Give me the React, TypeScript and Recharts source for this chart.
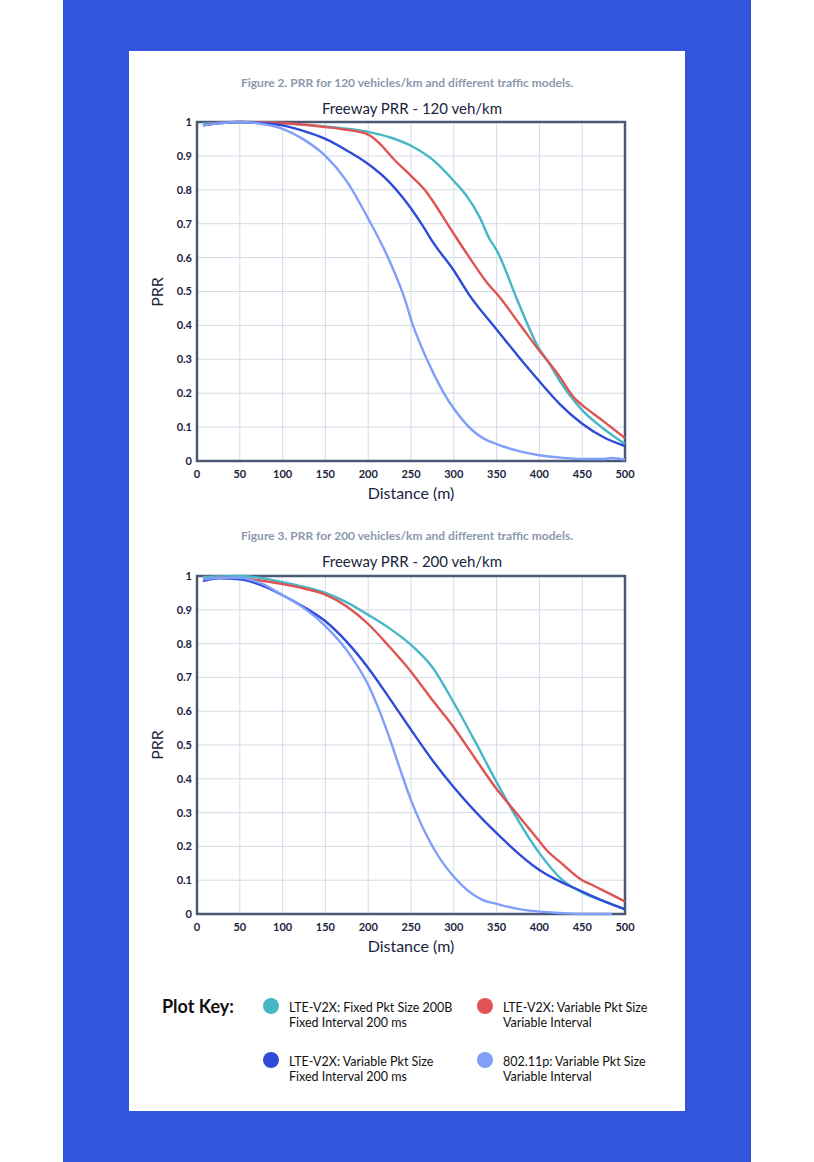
import React from 'react';
import { LineChart, Line, XAxis, YAxis, CartesianGrid, ReferenceArea } from 'recharts';

// ---------- ticks ----------
const distanceTicks = [0, 50, 100, 150, 200, 250, 300, 350, 400, 450, 500];
const prrTicks = [0, 0.1, 0.2, 0.3, 0.4, 0.5, 0.6, 0.7, 0.8, 0.9, 1];

// ---------- Figure 2 : 120 veh/km ----------
const fig2FixedDist = [7, 25, 50, 100, 150, 200, 225, 250, 279, 300, 315, 330, 342, 350, 375, 400, 410, 424, 450, 475, 500];
const fig2FixedPrr = [0.995, 0.998, 1.0, 0.996, 0.987, 0.971, 0.955, 0.93, 0.881, 0.826, 0.782, 0.72, 0.654, 0.622, 0.47, 0.33, 0.294, 0.235, 0.15, 0.095, 0.05];

const fig2VarVarDist = [7, 25, 50, 100, 150, 175, 200, 214, 230, 250, 267, 274, 300, 317, 342, 350, 375, 400, 420, 443, 450, 475, 500];
const fig2VarVarPrr = [0.99, 0.997, 1.0, 0.997, 0.985, 0.977, 0.963, 0.935, 0.89, 0.841, 0.797, 0.772, 0.67, 0.605, 0.516, 0.494, 0.41, 0.325, 0.262, 0.18, 0.165, 0.117, 0.068];

const fig2VarFixDist = [7, 25, 50, 75, 100, 125, 150, 175, 200, 225, 241, 250, 264, 276, 300, 318, 350, 375, 400, 425, 450, 475, 500];
const fig2VarFixPrr = [0.99, 0.996, 1.0, 0.997, 0.99, 0.973, 0.95, 0.916, 0.876, 0.822, 0.775, 0.745, 0.693, 0.644, 0.562, 0.49, 0.388, 0.31, 0.235, 0.165, 0.11, 0.07, 0.044];

const fig2WifiDist = [7, 25, 50, 75, 100, 125, 150, 175, 200, 225, 243, 251, 260, 276, 292, 300, 322, 335, 350, 375, 400, 425, 450, 475, 485, 500];
const fig2WifiPrr = [0.99, 0.996, 1.0, 0.995, 0.98, 0.948, 0.9, 0.825, 0.715, 0.59, 0.476, 0.41, 0.35, 0.26, 0.185, 0.155, 0.09, 0.066, 0.05, 0.03, 0.017, 0.01, 0.006, 0.006, 0.009, 0.004];

// ---------- Figure 3 : 200 veh/km ----------
const fig3FixedDist = [7, 25, 50, 100, 125, 150, 175, 200, 225, 250, 275, 300, 325, 350, 366, 375, 400, 425, 450, 475, 500];
const fig3FixedPrr = [0.997, 0.999, 1.0, 0.982, 0.968, 0.95, 0.922, 0.885, 0.845, 0.796, 0.73, 0.625, 0.51, 0.39, 0.317, 0.278, 0.18, 0.105, 0.064, 0.038, 0.014];

const fig3VarVarDist = [7, 25, 50, 100, 125, 150, 175, 200, 225, 250, 275, 300, 325, 350, 366, 400, 408, 425, 450, 460, 475, 500];
const fig3VarVarPrr = [0.99, 0.995, 0.993, 0.976, 0.963, 0.945, 0.91, 0.858, 0.79, 0.717, 0.633, 0.552, 0.46, 0.37, 0.32, 0.215, 0.19, 0.152, 0.1, 0.088, 0.069, 0.037];

const fig3VarFixDist = [7, 25, 50, 75, 100, 125, 150, 175, 200, 225, 250, 275, 300, 350, 400, 450, 475, 500];
const fig3VarFixPrr = [0.985, 0.993, 0.99, 0.973, 0.943, 0.908, 0.866, 0.805, 0.728, 0.638, 0.545, 0.455, 0.375, 0.239, 0.13, 0.066, 0.038, 0.014];

const fig3WifiDist = [7, 25, 50, 75, 100, 125, 150, 175, 200, 225, 237, 250, 276, 300, 334, 350, 375, 400, 425, 450, 485];
const fig3WifiPrr = [0.99, 0.995, 0.995, 0.978, 0.943, 0.905, 0.852, 0.78, 0.678, 0.52, 0.43, 0.337, 0.196, 0.11, 0.041, 0.03, 0.015, 0.007, 0.003, 0.0, 0.0];

// ---------- series meta ----------
const seriesColors = ['#47b6c6', '#e05353', '#2f4bd8', '#7f9ff9'];
const legendLines = [
  ['LTE-V2X: Fixed Pkt Size 200B', 'Fixed Interval 200 ms'],
  ['LTE-V2X: Variable Pkt Size', 'Variable Interval'],
  ['LTE-V2X: Variable Pkt Size', 'Fixed Interval 200 ms'],
  ['802.11p: Variable Pkt Size', 'Variable Interval'],
];

const zip = (d: number[], v: number[]) => d.map((x, i) => ({ d: x, prr: v[i] }));

const fig2Series = [
  zip(fig2FixedDist, fig2FixedPrr),
  zip(fig2VarVarDist, fig2VarVarPrr),
  zip(fig2VarFixDist, fig2VarFixPrr),
  zip(fig2WifiDist, fig2WifiPrr),
];
const fig3Series = [
  zip(fig3FixedDist, fig3FixedPrr),
  zip(fig3VarVarDist, fig3VarVarPrr),
  zip(fig3VarFixDist, fig3VarFixPrr),
  zip(fig3WifiDist, fig3WifiPrr),
];

const NAVY = '#1b2440';
const FONT = 'Lato, "Noto Sans", sans-serif';

function PrrChart({ series, top, plotH }: { series: { d: number; prr: number }[][]; top: number; plotH: number }) {
  return (
    <div style={{ position: 'absolute', left: 129, top }}>
      <LineChart width={556} height={10 + plotH + 30} margin={{ top: 10, right: 60, left: 0, bottom: 0 }}>
        <CartesianGrid stroke="#d5dae7" strokeWidth={1} />
        <XAxis
          type="number"
          dataKey="d"
          domain={[0, 500]}
          ticks={distanceTicks}
          axisLine={false}
          tickLine={false}
          tickSize={0}
          tickMargin={9}
          height={30}
          interval={0}
          allowDataOverflow
          tick={{ fontSize: 11, fontWeight: 700, fill: NAVY, fontFamily: FONT }}
        />
        <YAxis
          type="number"
          domain={[0, 1]}
          ticks={prrTicks}
          axisLine={false}
          tickLine={false}
          tickSize={0}
          tickMargin={5}
          width={68}
          interval={0}
          tickFormatter={(v: number) => String(Math.round(v * 10) / 10)}
          tick={{ fontSize: 11, fontWeight: 700, fill: NAVY, fontFamily: FONT }}
        />
        {series.map((s, i) => (
          <Line
            key={i}
            data={s}
            dataKey="prr"
            type="monotone"
            stroke={seriesColors[i]}
            strokeWidth={2.4}
            dot={false}
            activeDot={false}
            isAnimationActive={false}
          />
        ))}
        <ReferenceArea x1={0} x2={500} y1={0} y2={1} fill="none" fillOpacity={0} stroke="#4b5873" strokeWidth={2.5} />
      </LineChart>
    </div>
  );
}

function Centered({ x, y, children, style }: { x: number; y: number; children: React.ReactNode; style?: React.CSSProperties }) {
  return (
    <div
      style={{
        position: 'absolute',
        left: x,
        top: y,
        transform: 'translate(-50%, -50%)',
        whiteSpace: 'nowrap',
        lineHeight: 1,
        fontFamily: FONT,
        ...style,
      }}
    >
      {children}
    </div>
  );
}

export default function App() {
  const captionStyle: React.CSSProperties = { fontSize: 12, fontWeight: 700, color: '#8c97ae' };
  const titleStyle: React.CSSProperties = { fontSize: 15, color: NAVY };
  const axisStyle: React.CSSProperties = { fontSize: 16, color: NAVY };
  const legendPos = [
    { cx: 271, cy: 1006 },
    { cx: 485, cy: 1006 },
    { cx: 271, cy: 1060 },
    { cx: 485, cy: 1060 },
  ];
  return (
    <div style={{ position: 'absolute', left: 0, top: 0, width: 814, height: 1162, background: '#ffffff', overflow: 'hidden' }}>
      <div style={{ position: 'absolute', left: 63, top: 0, width: 688, height: 1162, background: '#3355dc' }} />
      <div style={{ position: 'absolute', left: 129, top: 51, width: 556, height: 1060, background: '#ffffff' }} />

      <Centered x={407} y={83} style={captionStyle}>Figure 2. PRR for 120 vehicles/km and different traffic models.</Centered>
      <Centered x={412} y={108} style={titleStyle}>Freeway PRR - 120 veh/km</Centered>
      <PrrChart series={fig2Series} top={112} plotH={339} />
      <Centered x={157} y={292} style={{ ...axisStyle, transform: 'translate(-50%, -50%) rotate(-90deg)' }}>PRR</Centered>
      <Centered x={411} y={493} style={axisStyle}>Distance (m)</Centered>

      <Centered x={407} y={536} style={captionStyle}>Figure 3. PRR for 200 vehicles/km and different traffic models.</Centered>
      <Centered x={412} y={561} style={titleStyle}>Freeway PRR - 200 veh/km</Centered>
      <PrrChart series={fig3Series} top={566} plotH={338} />
      <Centered x={157} y={745} style={{ ...axisStyle, transform: 'translate(-50%, -50%) rotate(-90deg)' }}>PRR</Centered>
      <Centered x={411} y={946} style={axisStyle}>Distance (m)</Centered>

      <div style={{ position: 'absolute', left: 162, top: 996, fontFamily: FONT, fontWeight: 700, fontSize: 18, color: '#111111', lineHeight: '20px' }}>
        Plot Key:
      </div>
      {legendPos.map((p, i) => (
        <React.Fragment key={i}>
          <div
            style={{
              position: 'absolute',
              left: p.cx - 8,
              top: p.cy - 8,
              width: 16,
              height: 16,
              borderRadius: 8,
              background: seriesColors[i],
            }}
          />
          <div
            style={{
              position: 'absolute',
              left: p.cx + 18,
              top: p.cy - 6,
              fontFamily: FONT,
              fontSize: 12.5,
              lineHeight: '15px',
              color: '#111111',
              whiteSpace: 'nowrap',
            }}
          >
            <div>{legendLines[i][0]}</div>
            <div>{legendLines[i][1]}</div>
          </div>
        </React.Fragment>
      ))}
    </div>
  );
}
